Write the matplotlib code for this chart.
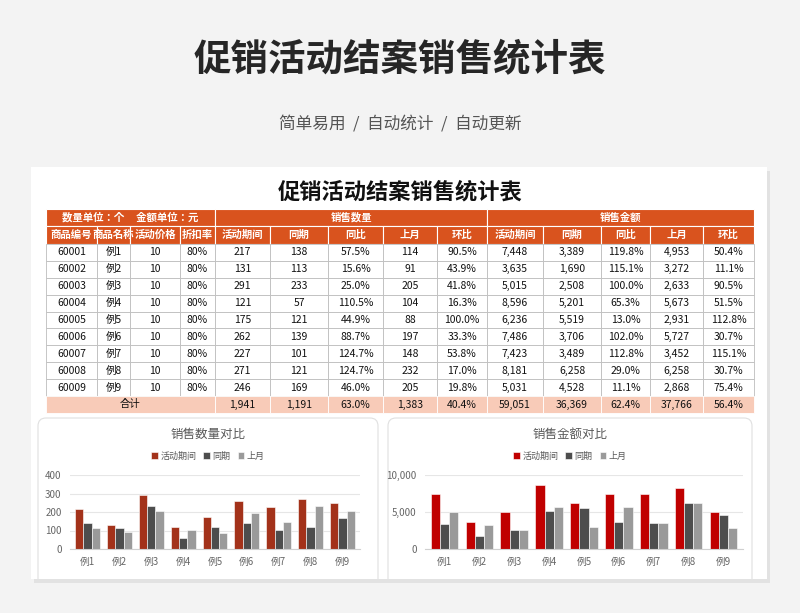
import numpy as np
import matplotlib.pyplot as plt
from matplotlib.patches import Rectangle, FancyBboxPatch

plt.rcParams["font.family"] = ["Noto Sans CJK JP", "Noto Sans CJK SC", "DejaVu Sans"]

# ============================================================
# Data
# ============================================================

codes = ["60001", "60002", "60003", "60004", "60005", "60006", "60007", "60008", "60009"]
names = ["例1", "例2", "例3", "例4", "例5", "例6", "例7", "例8", "例9"]
price = [10] * 9
discount = ["80%"] * 9

qty_act = [217, 131, 291, 121, 175, 262, 227, 271, 246]
qty_same = [138, 113, 233, 57, 121, 139, 101, 121, 169]
qty_yoy = ["57.5%", "15.6%", "25.0%", "110.5%", "44.9%", "88.7%", "124.7%", "124.7%", "46.0%"]
qty_last = [114, 91, 205, 104, 88, 197, 148, 232, 205]
qty_mom = ["90.5%", "43.9%", "41.8%", "16.3%", "100.0%", "33.3%", "53.8%", "17.0%", "19.8%"]

amt_act = [7448, 3635, 5015, 8596, 6236, 7486, 7423, 8181, 5031]
amt_same = [3389, 1690, 2508, 5201, 5519, 3706, 3489, 6258, 4528]
amt_yoy = ["119.8%", "115.1%", "100.0%", "65.3%", "13.0%", "102.0%", "112.8%", "29.0%", "11.1%"]
amt_last = [4953, 3272, 2633, 5673, 2931, 5727, 3452, 6258, 2868]
amt_mom = ["50.4%", "11.1%", "90.5%", "51.5%", "112.8%", "30.7%", "115.1%", "30.7%", "75.4%"]

total_row = ["1,941", "1,191", "63.0%", "1,383", "40.4%", "59,051", "36,369", "62.4%", "37,766", "56.4%"]

series_labels = ["活动期间", "同期", "上月"]

# ============================================================
# Figure / background
# ============================================================

fig = plt.figure(figsize=(8, 6.13), dpi=100)
fig.patch.set_facecolor("#f3f3f3")
bg = fig.add_axes([0, 0, 1, 1])
bg.set_xlim(0, 800)
bg.set_ylim(613, 0)
bg.axis("off")

bg.text(400, 60, "促销活动结案销售统计表", ha="center", va="center",
        fontsize=27, fontweight="bold", color="#262626")
bg.text(400, 125, "简单易用  /  自动统计  /  自动更新", ha="center", va="center",
        fontsize=12, color="#555555")

bg.add_patch(Rectangle((34, 171), 736, 412, facecolor="#e2e2e2", edgecolor="none"))
bg.add_patch(Rectangle((31, 167), 736, 412, facecolor="white", edgecolor="none"))
bg.text(400, 192, "促销活动结案销售统计表", ha="center", va="center",
        fontsize=16, fontweight="bold", color="#111111")

# ============================================================
# Table
# ============================================================

cols = [46, 97, 130, 180, 215, 270, 328, 383, 437, 487, 543, 601, 650, 703, 754]
orange = "#d9531e"
y0, h1, h2 = 209, 17, 18
rh = (396 - 244) / 9

# header row 1
bg.add_patch(Rectangle((cols[0], y0), cols[4] - cols[0], h1, facecolor=orange, edgecolor="white", lw=0.8))
bg.add_patch(Rectangle((cols[4], y0), cols[9] - cols[4], h1, facecolor=orange, edgecolor="white", lw=0.8))
bg.add_patch(Rectangle((cols[9], y0), cols[14] - cols[9], h1, facecolor=orange, edgecolor="white", lw=0.8))
bg.text((cols[0] + cols[4]) / 2, y0 + h1 / 2, "数量单位：个     金额单位：元", ha="center", va="center",
        fontsize=7.5, fontweight="bold", color="white")
bg.text((cols[4] + cols[9]) / 2, y0 + h1 / 2, "销售数量", ha="center", va="center",
        fontsize=7.5, fontweight="bold", color="white")
bg.text((cols[9] + cols[14]) / 2, y0 + h1 / 2, "销售金额", ha="center", va="center",
        fontsize=7.5, fontweight="bold", color="white")

headers = ["商品编号", "商品名称", "活动价格", "折扣率", "活动期间", "同期", "同比", "上月", "环比",
           "活动期间", "同期", "同比", "上月", "环比"]
for i, hd in enumerate(headers):
    cell = Rectangle((cols[i], y0 + h1), cols[i + 1] - cols[i], h2,
                     facecolor=orange, edgecolor="white", lw=0.8)
    bg.add_patch(cell)
    t = bg.text((cols[i] + cols[i + 1]) / 2, y0 + h1 + h2 / 2, hd, ha="center", va="center",
                fontsize=7.5, fontweight="bold", color="white")
    t.set_clip_path(cell)

for r in range(9):
    row = [codes[r], names[r], str(price[r]), discount[r],
           f"{qty_act[r]:,}", f"{qty_same[r]:,}", qty_yoy[r], f"{qty_last[r]:,}", qty_mom[r],
           f"{amt_act[r]:,}", f"{amt_same[r]:,}", amt_yoy[r], f"{amt_last[r]:,}", amt_mom[r]]
    yy = 244 + r * rh
    for i, v in enumerate(row):
        bg.add_patch(Rectangle((cols[i], yy), cols[i + 1] - cols[i], rh,
                               facecolor="white", edgecolor="#bdbdbd", lw=0.6))
        bg.text((cols[i] + cols[i + 1]) / 2, yy + rh / 2, v, ha="center", va="center",
                fontsize=7.5, color="#111111")

yy = 396
bg.add_patch(Rectangle((cols[0], yy), cols[4] - cols[0], 17, facecolor="#f8cbb8", edgecolor="white", lw=0.6))
bg.text((cols[0] + cols[4]) / 2, yy + 8.5, "合计", ha="center", va="center", fontsize=7.5, color="#111111")
for i, v in enumerate(total_row):
    c = i + 4
    bg.add_patch(Rectangle((cols[c], yy), cols[c + 1] - cols[c], 17,
                           facecolor="#f8cbb8", edgecolor="white", lw=0.6))
    bg.text((cols[c] + cols[c + 1]) / 2, yy + 8.5, v, ha="center", va="center",
            fontsize=7.5, color="#111111")

# ============================================================
# Charts
# ============================================================

for x0, x1 in [(38, 378), (388, 752)]:
    bg.add_patch(FancyBboxPatch((x0, 418), x1 - x0, 190, boxstyle="round,pad=0,rounding_size=8",
                                facecolor="white", edgecolor="#e0e0e0", lw=0.8))
# cover bottom so chart cards look cut off by the main card edge
bg.add_patch(Rectangle((34, 579), 736, 4, facecolor="#e2e2e2", edgecolor="none", zorder=3))
bg.add_patch(Rectangle((0, 583), 800, 30, facecolor="#f3f3f3", edgecolor="none", zorder=3))


def bar_chart(rect, data, colors, ymax, yticks, fmt, title, title_x, leg_x):
    ax = fig.add_axes(rect)
    x = np.arange(len(names))
    w = 0.26
    for k, (vals, col) in enumerate(zip(data, colors)):
        ax.bar(x + (k - 1) * w, vals, w, color=col, edgecolor="white", linewidth=0.4,
               label=series_labels[k])
    ax.set_ylim(0, ymax)
    ax.set_xlim(-0.55, len(names) - 0.45)
    ax.set_yticks(yticks)
    ax.set_yticklabels([fmt(t) for t in yticks], fontsize=7, color="#666666")
    ax.set_xticks(x)
    ax.set_xticklabels(names, fontsize=7, color="#666666")
    ax.tick_params(length=0, pad=6)
    ax.grid(axis="y", color="#e6e6e6", lw=0.8)
    ax.set_axisbelow(True)
    for s in ["top", "right", "left"]:
        ax.spines[s].set_visible(False)
    ax.spines["bottom"].set_color("#d0d0d0")
    fig.text(title_x, 1 - 434 / 613, title, ha="center", va="center", fontsize=9, color="#595959")
    ax.legend(loc="center", bbox_to_anchor=(leg_x, 1 - 456 / 613), bbox_transform=fig.transFigure,
              ncol=3, frameon=False, fontsize=6.5, handlelength=0.7, handleheight=0.7,
              columnspacing=0.8, handletextpad=0.3, labelcolor="#595959")
    return ax


b = 1 - 549 / 613
hgt = (549 - 475) / 613
bar_chart([70 / 800, b, 290 / 800, hgt], [qty_act, qty_same, qty_last],
          ["#a3321a", "#4d4d4d", "#9a9a9a"], 400, [0, 100, 200, 300, 400],
          lambda t: f"{t:,}", "销售数量对比", 208 / 800, 208 / 800)
bar_chart([425 / 800, b, 318 / 800, hgt], [amt_act, amt_same, amt_last],
          ["#c00000", "#4d4d4d", "#9a9a9a"], 10000, [0, 5000, 10000],
          lambda t: f"{t:,}", "销售金额对比", 570 / 800, 570 / 800)

fig.savefig("out.png", dpi=100, facecolor=fig.get_facecolor())
